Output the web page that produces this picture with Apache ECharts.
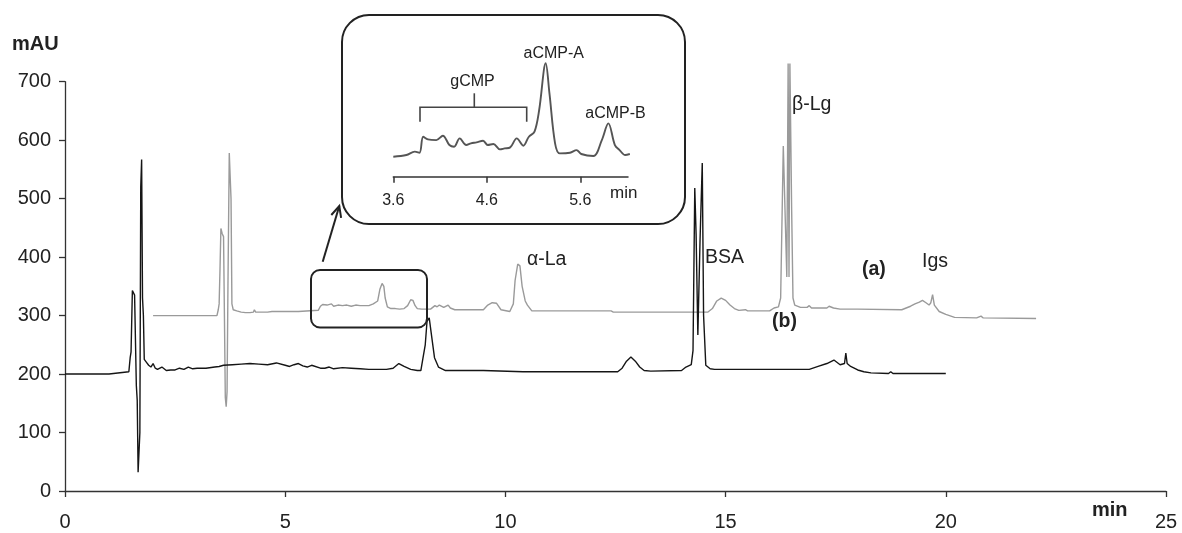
<!DOCTYPE html>
<html>
<head>
<meta charset="utf-8">
<script src="https://cdn.jsdelivr.net/npm/echarts@6/dist/echarts.min.js"></script>
<style>html,body{margin:0;padding:0;background:#fff}#c{width:1182px;height:533px}</style>
</head>
<body>
<div id="c"></div>
<script>
// ---- main axis ticks
const xTicks = [0, 5, 10, 15, 20, 25];
const yTicks = [0, 100, 200, 300, 400, 500, 600, 700];

// ---- trace (b), black
const timeB = [0,1.0,1.02,1.45,1.48,1.5,1.53,1.56,1.58,1.6,1.62,1.64,1.66,1.68,1.7,1.72,1.74,1.76,1.78,1.8,1.85,1.9,1.95,2.0,2.05,2.1,2.2,2.3,2.4,2.5,2.6,2.7,2.8,2.9,3.0,3.2,3.4,3.5,3.6,3.8,4.0,4.2,4.4,4.6,4.8,5.0,5.1,5.2,5.3,5.4,5.5,5.6,5.8,5.9,6.0,6.1,6.3,6.5,6.7,6.9,7.1,7.3,7.45,7.58,7.7,7.85,8.0,8.08,8.13,8.18,8.22,8.27,8.33,8.39,8.48,8.64,9.5,10.4,12.55,12.65,12.75,12.85,12.95,13.05,13.15,13.3,14.0,14.1,14.22,14.26,14.3,14.33,14.37,14.42,14.47,14.5,14.55,14.65,14.75,16.9,17.1,17.3,17.46,17.6,17.7,17.73,17.76,17.84,18.0,18.14,18.3,18.7,18.75,18.8,20.0];
const signalB = [200,200,203,204,228,238,343,345,335,333,180,155,32,32,100,520,567,330,300,225,220,215,212,218,210,208,212,206,207,207,210,208,212,209,210,210,212,213,215,216,217,218,217,216,219,215,213,216,218,214,212,215,210,210,212,209,211,210,209,208,208,208,210,218,213,208,206,206,228,250,290,296,262,228,212,206,206,204,204,210,222,229,222,212,206,205,206,212,216,240,518,440,267,430,561,300,215,209,208,208,213,218,224,216,218,236,218,213,207,204,202,201,204,201,201];

// ---- trace (a), grey
const timeA = [2.0,3.45,3.48,3.5,3.52,3.54,3.57,3.6,3.62,3.64,3.66,3.68,3.7,3.73,3.75,3.77,3.79,3.82,3.9,4.0,4.1,4.2,4.28,4.3,4.33,4.6,4.7,5.0,5.3,5.32,5.75,5.8,5.85,5.95,6.05,6.1,6.2,6.3,6.4,6.5,6.6,6.7,6.9,7.0,7.1,7.15,7.2,7.24,7.27,7.32,7.4,7.5,7.6,7.7,7.78,7.85,7.9,7.95,8.0,8.1,8.3,8.4,8.45,8.5,8.6,8.7,8.75,8.85,9.5,9.6,9.7,9.8,9.9,10.1,10.18,10.22,10.28,10.33,10.38,10.45,10.5,10.6,12.4,12.45,14.6,14.7,14.8,14.9,15.0,15.1,15.2,15.3,15.45,15.5,16.0,16.1,16.2,16.25,16.31,16.36,16.39,16.42,16.44,16.46,16.48,16.5,16.53,16.57,16.7,16.85,16.9,16.95,17.3,17.35,17.45,17.6,18.0,19.0,19.1,19.2,19.3,19.4,19.47,19.55,19.62,19.66,19.7,19.74,19.85,20.0,20.2,20.7,20.8,20.85,22.05];
const signalA = [300,300,310,320,380,449,440,435,300,160,144,170,350,578,575,500,320,310,308,306,305,305,306,310,306,306,307,307,307,309,309,316,319,318,320,316,318,317,318,316,318,317,317,320,325,345,355,350,330,315,312,312,311,312,317,327,326,317,312,311,311,317,315,318,314,318,313,310,310,318,322,321,310,307,320,360,388,385,350,325,318,308,308,306,306,312,325,330,326,318,312,309,310,308,308,313,315,330,590,450,366,731,366,731,731,480,330,318,314,314,317,313,313,316,313,311,311,310,313,316,320,323,326,322,318,322,336,318,307,302,297,296,299,296,295];

// ---- inset trace (relative absorbance)
const insetTicks = [3.6, 4.6, 5.6];
const timeInset = [3.6,3.74,3.83,3.88,3.92,3.97,4.06,4.13,4.2,4.25,4.31,4.38,4.43,4.49,4.56,4.61,4.67,4.74,4.79,4.85,4.92,4.99,5.05,5.11,5.16,5.23,5.27,5.33,5.38,5.49,5.56,5.61,5.74,5.83,5.9,5.97,6.02,6.08,6.13];
const signalInset = [0,1.8,5.4,4.3,21.4,18.5,17.8,22.5,12.5,10.7,19.6,12.5,14.3,15.4,17.1,12.5,13.6,7.9,8.9,10,19.6,11.8,21.4,26.8,50,100,67.8,14.3,3.6,4.3,7.1,2.9,0.7,17.8,35.7,12.5,7.1,1.8,2.9];

const FONT = 'Liberation Sans, Arial, sans-serif';
const pairs = (t, v) => t.map((x, i) => [x, v[i]]);

const chart = echarts.init(document.getElementById('c'), null, {renderer: 'canvas'});

const txt = (x, y, s, size, bold, align) => ({
  type: 'text', x: x, y: y, z: 50,
  style: {text: s, fill: '#222', font: (bold ? 'bold ' : '') + size + 'px ' + FONT,
          textAlign: align || 'left', textVerticalAlign: 'middle'}
});

chart.setOption({
  animation: false,
  backgroundColor: '#fff',
  grid: [
    {left: 65, right: 16, top: 81.7, bottom: 42, containLabel: false, outerBoundsMode: 'none'},
    {left: 393.3, width: 234.7, top: 63.3, height: 113.4, containLabel: false, outerBoundsMode: 'none'}
  ],
  xAxis: [
    {type: 'value', gridIndex: 0, min: xTicks[0], max: xTicks[xTicks.length - 1], interval: 5,
     axisLine: {show: true, lineStyle: {color: '#333', width: 1.3}},
     axisTick: {show: true, length: 6, lineStyle: {color: '#333', width: 1.3}},
     axisLabel: {margin: 21, color: '#222', fontSize: 20, fontFamily: FONT},
     splitLine: {show: false}},
    {type: 'value', gridIndex: 1, min: insetTicks[0], max: 6.11, interval: 1,
     axisLine: {show: true, onZero: false, lineStyle: {color: '#333', width: 1.5}},
     axisTick: {show: true, length: 6, lineStyle: {color: '#333', width: 1.5}},
     axisLabel: {margin: 16, color: '#222', fontSize: 16, fontFamily: FONT, showMaxLabel: false,
                 formatter: v => v.toFixed(1)},
     splitLine: {show: false}}
  ],
  yAxis: [
    {type: 'value', gridIndex: 0, min: yTicks[0], max: yTicks[yTicks.length - 1], interval: 100,
     axisLine: {show: true, lineStyle: {color: '#333', width: 1.3}},
     axisTick: {show: true, length: 6, lineStyle: {color: '#333', width: 1.3}},
     axisLabel: {margin: 14, color: '#222', fontSize: 20, fontFamily: FONT},
     splitLine: {show: false}},
    {type: 'value', gridIndex: 1, min: -21.4, max: 100, show: false,
     splitLine: {show: false}}
  ],
  series: [
    {type: 'line', name: '(a)', xAxisIndex: 0, yAxisIndex: 0, data: pairs(timeA, signalA),
     showSymbol: false, symbol: 'none', clip: false, lineStyle: {color: '#9a9a9a', width: 1.4}, z: 2},
    {type: 'line', name: '(b)', xAxisIndex: 0, yAxisIndex: 0, data: pairs(timeB, signalB),
     showSymbol: false, symbol: 'none', lineStyle: {color: '#151515', width: 1.4}, z: 3},
    {type: 'line', name: 'inset', xAxisIndex: 1, yAxisIndex: 1, data: pairs(timeInset, signalInset),
     showSymbol: false, symbol: 'none', smooth: 0.35, clip: false,
     lineStyle: {color: '#555', width: 1.9}, z: 3}
  ],
  graphic: [
    txt(12, 44, 'mAU', 20, true),
    txt(1092, 510, 'min', 20, true),
    txt(527, 260, 'α-La', 19.5),
    txt(705, 258, 'BSA', 19.5),
    txt(792, 105, 'β-Lg', 19.5),
    txt(862, 270, '(a)', 19.5, true),
    txt(772, 322, '(b)', 19.5, true),
    txt(922, 262, 'Igs', 19.5),
    txt(472.5, 81.7, 'gCMP', 16, false, 'center'),
    txt(553.8, 53.3, 'aCMP-A', 16, false, 'center'),
    txt(615.5, 113.3, 'aCMP-B', 16, false, 'center'),
    txt(610, 193.3, 'min', 17),
    // inset frame
    {type: 'rect', z: 40, shape: {x: 342, y: 15, width: 343, height: 209, r: 27},
     style: {fill: 'none', stroke: '#222', lineWidth: 2}},
    // small zoom frame
    {type: 'rect', z: 40, shape: {x: 311, y: 270, width: 116, height: 57.5, r: 9},
     style: {fill: 'none', stroke: '#222', lineWidth: 2}},
    // arrow
    {type: 'line', z: 40, shape: {x1: 322.7, y1: 261.7, x2: 339.3, y2: 206},
     style: {stroke: '#222', lineWidth: 2}},
    {type: 'polyline', z: 40, shape: {points: [[331.3, 215], [339.3, 206], [341.1, 217.9]]},
     style: {stroke: '#222', lineWidth: 2, fill: 'none'}},
    // gCMP brace
    {type: 'polyline', z: 40, shape: {points: [[420, 121.7], [420, 107.3], [526.7, 107.3], [526.7, 121.7]]},
     style: {stroke: '#444', lineWidth: 1.6, fill: 'none'}},
    {type: 'line', z: 40, shape: {x1: 474.3, y1: 107.3, x2: 474.3, y2: 93.3},
     style: {stroke: '#444', lineWidth: 1.6}}
  ]
});
</script>
</body>
</html>
